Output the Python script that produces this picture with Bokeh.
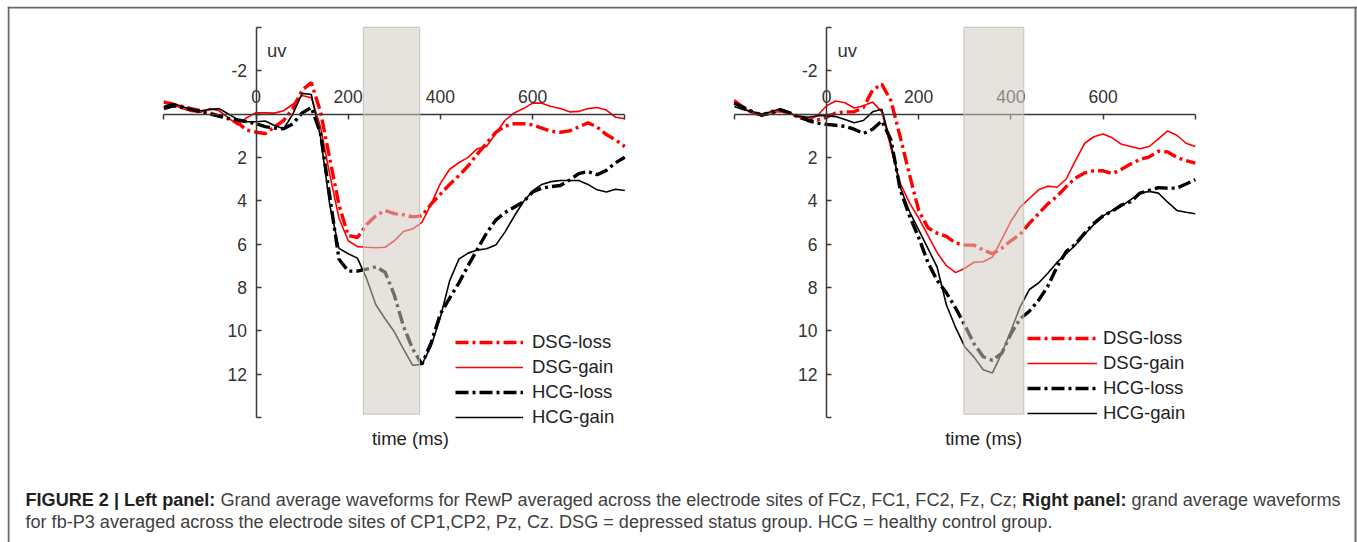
from bokeh.plotting import figure
from bokeh.models import Range1d, LinearAxis, FixedTicker, BoxAnnotation, Legend, LegendItem, Span
from bokeh.core.properties import value
from bokeh.embed import file_html
from bokeh.resources import INLINE

# ---------------- data ----------------
time_ms = list(range(-200, 801, 20))

left_dsg_loss = [-0.55, -0.45, -0.35, -0.25, -0.16, -0.05, 0.1, 0.22, 0.4, 0.74,
                 0.84, 0.9, 0.6, 0.3, -0.25, -1.1, -1.45, -0.1, 2.05, 4.2,
                 5.6, 5.7, 5.1, 4.7, 4.45, 4.6, 4.65, 4.75, 4.7, 4.15,
                 3.7, 3.25, 2.85, 2.4, 1.85, 1.35, 0.85, 0.55, 0.45, 0.45,
                 0.5, 0.65, 0.8, 0.84, 0.78, 0.6, 0.4, 0.6, 0.95, 1.2,
                 1.5]
left_dsg_gain = [-0.6, -0.42, -0.25, -0.12, -0.08, -0.25, -0.15, 0.18, 0.5, 0.17,
                 -0.06, -0.05, -0.04, -0.15, -0.45, -0.85, -0.75, 0.6, 2.8, 4.8,
                 5.85, 6.12, 6.15, 6.17, 6.15, 5.85, 5.42, 5.3, 5.0, 4.15,
                 3.2, 2.55, 2.25, 2.0, 1.6, 1.5, 0.9, 0.3, -0.05, -0.25,
                 -0.5, -0.5, -0.35, -0.25, -0.1, -0.12, -0.25, -0.3, -0.18, 0.15,
                 0.22]
left_hcg_loss = [-0.25, -0.38, -0.3, -0.2, -0.1, 0.0, 0.1, 0.2, 0.27, 0.35,
                 0.45, 0.58, 0.65, 0.68, 0.45, -0.05, -0.3, 0.9, 3.8, 6.7,
                 7.25, 7.25, 7.16, 7.05, 7.3, 8.35, 9.8, 10.85, 11.55, 10.55,
                 9.22, 8.5, 7.8, 7.0, 6.25, 5.5, 4.9, 4.55, 4.3, 4.05,
                 3.6, 3.42, 3.35, 3.3, 3.05, 2.75, 2.65, 2.8, 2.6, 2.25,
                 2.0]
left_hcg_gain = [-0.35, -0.48, -0.35, -0.18, -0.15, -0.2, -0.25, 0.0, 0.25, 0.35,
                 0.36, 0.32, 0.53, 0.68, 0.0, -0.95, -0.9, 1.07, 4.2, 6.2,
                 6.45, 6.65, 7.6, 8.8, 9.45, 10.05, 10.85, 11.6, 11.55, 10.7,
                 9.38, 7.7, 6.7, 6.42, 6.28, 6.22, 6.05, 5.45, 4.72, 4.05,
                 3.55, 3.25, 3.12, 3.07, 3.07, 3.07, 3.25, 3.5, 3.6, 3.47,
                 3.53]

right_dsg_loss = [-0.6, -0.3, -0.05, 0.05, -0.12, -0.15, -0.05, 0.17, 0.26, 0.28,
                  0.15, -0.05, -0.1, -0.1, -0.3, -1.1, -1.38, -0.6, 1.07, 2.8,
                  4.45, 5.25, 5.5, 5.65, 5.95, 6.05, 6.05, 6.28, 6.45, 6.2,
                  5.85, 5.55, 5.05, 4.6, 4.15, 3.8, 3.35, 2.95, 2.72, 2.62,
                  2.62, 2.75, 2.55, 2.3, 2.1, 1.98, 1.72, 1.75, 2.0, 2.15,
                  2.27]
right_dsg_gain = [-0.65, -0.3, -0.02, 0.05, 0.0, -0.16, -0.05, 0.15, 0.28, 0.08,
                  -0.38, -0.6, -0.52, -0.28, -0.38, -0.55, -0.1, 1.6, 3.2, 4.1,
                  4.8, 5.6, 6.4, 7.0, 7.32, 7.12, 6.84, 6.82, 6.6, 5.8,
                  4.95, 4.3, 3.9, 3.5, 3.33, 3.38, 3.0, 2.15, 1.35, 1.05,
                  0.92, 1.1, 1.4, 1.5, 1.6, 1.5, 1.15, 0.78, 0.98, 1.35,
                  1.5]
right_hcg_loss = [-0.5, -0.3, -0.1, 0.05, -0.05, -0.2, -0.05, 0.12, 0.3, 0.42,
                  0.48, 0.52, 0.57, 0.7, 0.9, 0.7, 0.32, 1.2, 3.5, 4.7,
                  5.7, 6.85, 7.68, 8.25, 8.95, 9.75, 10.6, 11.2, 11.37, 11.05,
                  10.15, 9.45, 9.1, 8.6, 7.95, 7.05, 6.35, 6.0, 5.5, 5.05,
                  4.7, 4.48, 4.2, 4.05, 3.65, 3.52, 3.4, 3.42, 3.42, 3.23,
                  3.03]
right_hcg_gain = [-0.35, -0.2, -0.1, 0.0, -0.1, -0.24, -0.02, 0.1, 0.15, 0.08,
                  0.08, 0.12, 0.25, 0.4, 0.3, -0.1, -0.22, 1.4, 3.38, 4.5,
                  5.35, 6.2, 7.07, 8.8, 9.85, 10.75, 11.22, 11.8, 11.95, 11.05,
                  10.0, 8.9, 8.1, 7.8, 7.35, 6.85, 6.45, 6.05, 5.55, 5.1,
                  4.7, 4.45, 4.25, 3.95, 3.65, 3.57, 3.65, 4.07, 4.45, 4.53,
                  4.6]

series_names = ["DSG-loss", "DSG-gain", "HCG-loss", "HCG-gain"]
left_series = [left_dsg_loss, left_dsg_gain, left_hcg_loss, left_hcg_gain]
right_series = [right_dsg_loss, right_dsg_gain, right_hcg_loss, right_hcg_gain]

left_window_ms = [233, 355]
right_window_ms = [298, 428]
window_uv = [-4, 13.85]

x_ticks = [-200, 0, 200, 400, 600, 800]
x_tick_labels = {-200: "", 0: "0", 200: "200", 400: "400", 600: "600", 800: ""}
y_ticks = [-4, -2, 0, 2, 4, 6, 8, 10, 12, 14]
y_tick_labels = {-4: "", -2: "-2", 0: "", 2: "2", 4: "4", 6: "6", 8: "8",
                 10: "10", 12: "12", 14: ""}

caption_line1 = [("FIGURE 2 | Left panel:", True),
                 (" Grand average waveforms for RewP averaged across the electrode sites of FCz, FC1, FC2, Fz, Cz; ", False),
                 ("Right panel:", True),
                 (" grand average waveforms", False)]
caption_line2 = [("for fb-P3 averaged across the electrode sites of CP1,CP2, Pz, Cz. DSG = depressed status group. HCG = healthy control group.", False)]

# ---------------- layout constants (screen px of the page) ----------------
W, H = 1357, 542
FRAME_L, FRAME_T = 7, 6          # frame inset inside the canvas
PX_PER_MS = 0.461
PX_PER_UV = 21.67
ORIGIN_X = {"left": 255.5, "right": 826.0}
ORIGIN_Y = 113.5
FONT = "Liberation Sans"

p = figure(width=W, height=H, x_range=Range1d(FRAME_L, W), y_range=Range1d(H, FRAME_T),
           min_border_left=FRAME_L, min_border_top=FRAME_T, min_border_right=0, min_border_bottom=0,
           toolbar_location=None, output_backend="svg",
           x_axis_type=None, y_axis_type=None, outline_line_color=None,
           background_fill_color="white", border_fill_color="white")

p.extra_x_ranges = {
    name: Range1d((FRAME_L - ox) / PX_PER_MS, (W - ox) / PX_PER_MS)
    for name, ox in ORIGIN_X.items()
}
p.extra_y_ranges = {"uv": Range1d((H - ORIGIN_Y) / PX_PER_UV, (FRAME_T - ORIGIN_Y) / PX_PER_UV)}

# figure border (left, top, right)
for loc, dim in [(FRAME_L + 1, "height"), (W - 2, "height"), (FRAME_T + 1, "width")]:
    p.add_layout(Span(location=loc, dimension=dim, line_color="#6a6a6a", line_width=2))

styles = {
    "DSG-loss": dict(line_color="#ff0000", line_width=3.4, line_dash="13 4 3 4"),
    "DSG-gain": dict(line_color="#ff0000", line_width=1.6, line_dash="solid"),
    "HCG-loss": dict(line_color="#000000", line_width=3.4, line_dash="13 4 3 4"),
    "HCG-gain": dict(line_color="#000000", line_width=1.6, line_dash="solid"),
}

# legend location: (glyph left px, legend bottom px) on the page
panels = [("left", left_series, left_window_ms, (455, 428), 68, 9, 335),
          ("right", right_series, right_window_ms, (1027, 424), 70, 6, 341)]

for name, series, window, leg_px, glyph_w, standoff, xlabel_ms in panels:
    xa = LinearAxis(x_range_name=name, y_range_name="uv", fixed_location=0,
                    ticker=FixedTicker(ticks=x_ticks), bounds=(x_ticks[0], x_ticks[-1]),
                    major_label_overrides=x_tick_labels,
                    major_tick_in=5, major_tick_out=0, minor_tick_in=0, minor_tick_out=0,
                    axis_line_color="#3a3a3a", axis_line_width=1.5,
                    major_tick_line_color="#3a3a3a", major_tick_line_width=1.5,
                    major_label_text_font=FONT, major_label_text_font_size="17.5px",
                    major_label_text_color="#333333", major_label_standoff=11)
    p.add_layout(xa, "above")
    ya = LinearAxis(x_range_name=name, y_range_name="uv", fixed_location=0,
                    ticker=FixedTicker(ticks=y_ticks), bounds=(y_ticks[0], y_ticks[-1]),
                    major_label_overrides=y_tick_labels,
                    major_tick_in=5, major_tick_out=0, minor_tick_in=0, minor_tick_out=0,
                    axis_line_color="#3a3a3a", axis_line_width=1.5,
                    major_tick_line_color="#3a3a3a", major_tick_line_width=1.5,
                    major_label_text_font=FONT, major_label_text_font_size="17.5px",
                    major_label_text_color="#333333", major_label_standoff=9)
    p.add_layout(ya, "left")

    items = []
    for sname, vals in zip(series_names, series):
        r = p.line(time_ms, vals, x_range_name=name, y_range_name="uv", **styles[sname])
        items.append(LegendItem(label=sname, renderers=[r]))

    box = BoxAnnotation(left=window[0], right=window[1], top=window_uv[0], bottom=window_uv[1],
                        x_range_name=name, y_range_name="uv",
                        fill_color="#d0cbc4", fill_alpha=0.54,
                        line_color="#c2bdb6", line_width=1, line_alpha=0.9)
    p.add_layout(box)

    legend = Legend(items=items, location=(leg_px[0] - FRAME_L, H - leg_px[1]),
                    padding=0, margin=0, spacing=3,
                    glyph_width=glyph_w, glyph_height=20, label_height=20,
                    label_standoff=standoff, border_line_color=None,
                    background_fill_alpha=0, label_text_font=FONT,
                    label_text_font_size="18.5px", label_text_color="#222222")
    p.add_layout(legend)

    p.text(x=[24], y=[-2.95], text=["uv"], x_range_name=name, y_range_name="uv",
           text_font=value(FONT), text_font_size="18.5px", text_color="#333333",
           text_align="left", text_baseline="middle")
    p.text(x=[xlabel_ms], y=[14.97], text=["time (ms)"], x_range_name=name, y_range_name="uv",
           text_font=value(FONT), text_font_size="18.5px", text_color="#222222",
           text_align="center", text_baseline="middle")

# ---------------- caption ----------------
REG = {' ': 278, '(': 333, ')': 333, ',': 278, '-': 333, '.': 278, ':': 278, ';': 278,
       '=': 584, '|': 260,
       'A': 667, 'B': 667, 'C': 722, 'D': 722, 'E': 667, 'F': 611, 'G': 778, 'H': 722,
       'I': 278, 'J': 500, 'K': 667, 'L': 556, 'M': 833, 'N': 722, 'O': 778, 'P': 667,
       'Q': 778, 'R': 722, 'S': 667, 'T': 611, 'U': 722, 'V': 667, 'W': 944, 'X': 667,
       'Y': 667, 'Z': 611,
       'a': 556, 'b': 556, 'c': 500, 'd': 556, 'e': 556, 'f': 278, 'g': 556, 'h': 556,
       'i': 222, 'j': 222, 'k': 500, 'l': 222, 'm': 833, 'n': 556, 'o': 556, 'p': 556,
       'q': 556, 'r': 333, 's': 500, 't': 278, 'u': 556, 'v': 500, 'w': 722, 'x': 500,
       'y': 500, 'z': 500}
BOLD = dict(REG)
BOLD.update({':': 333, '|': 280, 'A': 722, 'B': 722, 'J': 556, 'K': 722, 'L': 611,
             'a': 556, 'b': 611, 'c': 556, 'd': 611, 'e': 556, 'f': 333, 'g': 611,
             'h': 611, 'i': 278, 'j': 278, 'k': 556, 'l': 278, 'm': 889, 'n': 611,
             'o': 611, 'p': 611, 'q': 611, 'r': 389, 's': 556, 't': 333, 'u': 611,
             'v': 556, 'w': 778, 'x': 556, 'y': 556})


def units(s, bold):
    table = BOLD if bold else REG
    return sum(table.get(ch, 556) for ch in s)


CAP_X0, CAP_X1 = 25, 1340
CAP_Y = [499, 521]
line1_units = sum(units(s, b) for s, b in caption_line1)
cap_size = (CAP_X1 - CAP_X0) / (line1_units / 1000.0)

for line, y in zip([caption_line1, caption_line2], CAP_Y):
    x = CAP_X0
    for s, b in line:
        lead = len(s) - len(s.lstrip(" "))
        x += units(" " * lead, b) * cap_size / 1000.0
        body = s.strip(" ")
        p.text(x=[x], y=[y], text=[body], text_font=value(FONT),
               text_font_size=f"{cap_size:.2f}px",
               text_font_style="bold" if b else "normal",
               text_color="#231f20" if b else "#404040",
               text_align="left", text_baseline="middle")
        x += units(s.lstrip(" "), b) * cap_size / 1000.0

open("out.html", "w").write(file_html(p, INLINE))
